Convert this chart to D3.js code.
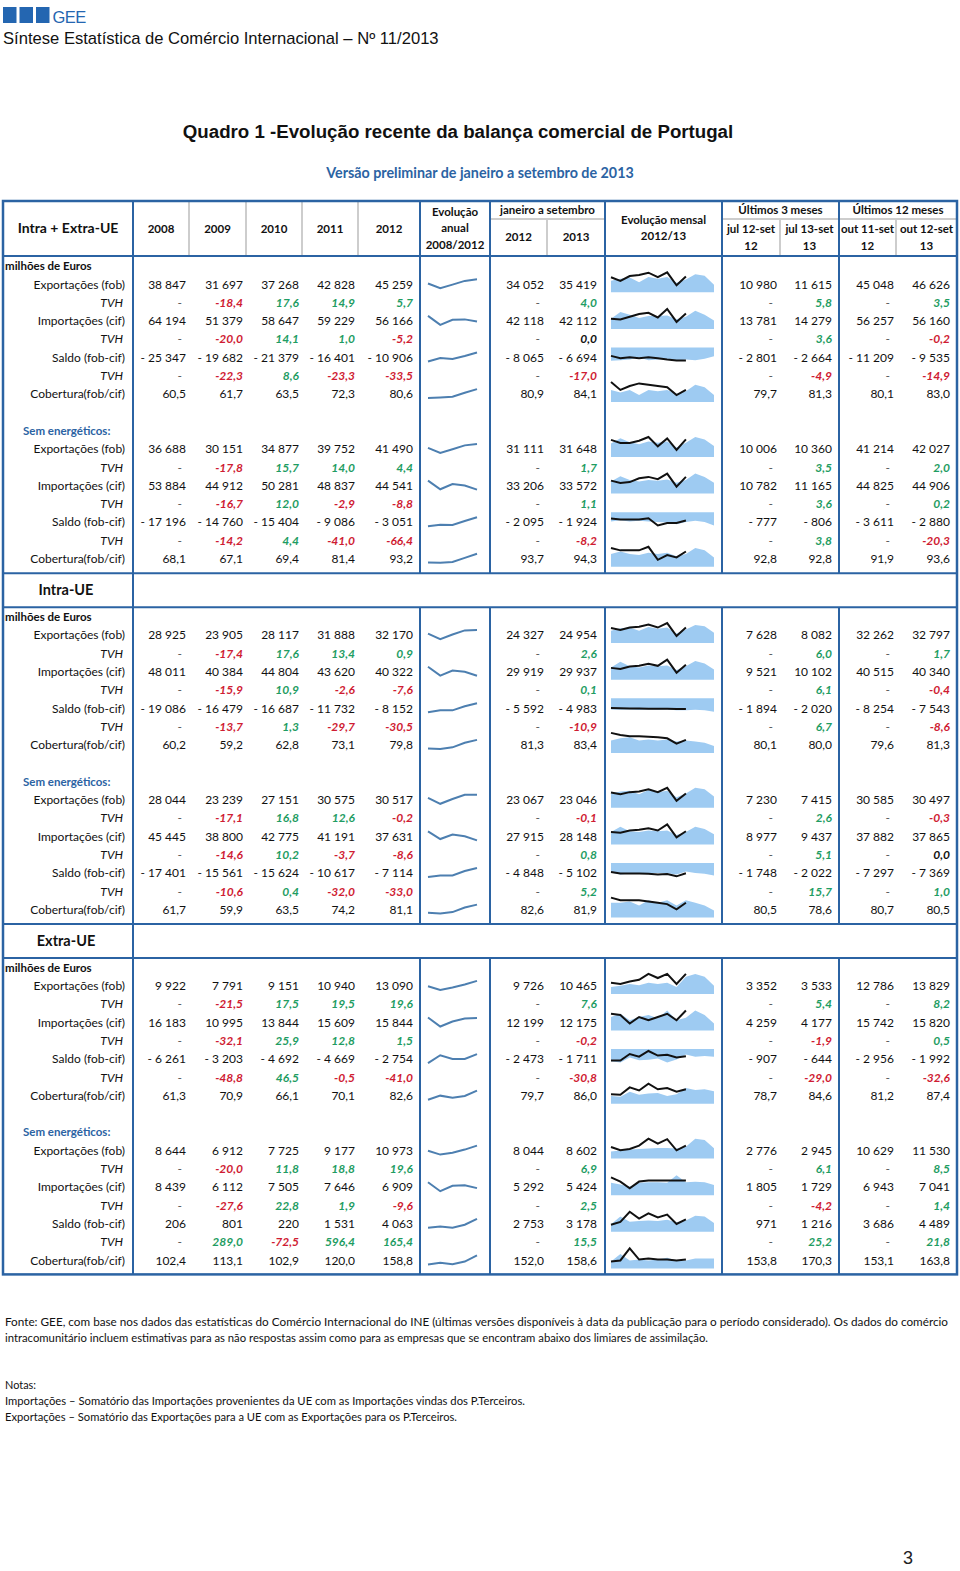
<!DOCTYPE html>
<html>
<head>
<meta charset="utf-8">
<script src="https://cdn.jsdelivr.net/npm/d3@7"></script>
<style>
  body { margin: 0; background: #fff; }
  svg text { font-family: Lato, "Open Sans", sans-serif; }
</style>
</head>
<body>
<script>
// Quadro 1 - evolução recente da balança comercial (tabela com sparklines)

const years = ["2008", "2009", "2010", "2011", "2012"];
const months = ["jan", "fev", "mar", "abr", "mai", "jun", "jul", "ago", "set", "out", "nov", "dez"];
const rowLabels = ["Exportações (fob)", "TVH", "Importações (cif)", "TVH", "Saldo (fob-cif)", "TVH", "Cobertura(fob/cif)"];
const sectionNames = ["Intra + Extra-UE", "Intra-UE", "Extra-UE"];
const periodHeads = ["janeiro a setembro", "Últimos 3 meses", "Últimos 12 meses"];
const periodCols = [["2012"], ["2013"], ["jul 12-set", "12"], ["jul 13-set", "13"], ["out 11-set", "12"], ["out 12-set", "13"]];

// columns: 2008..2012 | jan-set 2012, 2013 | jul-set 12, 13 | out-set 12, 13
const ieTotal = [
  [38847, 31697, 37268, 42828, 45259, 34052, 35419, 10980, 11615, 45048, 46626],
  [null, -18.4, 17.6, 14.9, 5.7, null, 4.0, null, 5.8, null, 3.5],
  [64194, 51379, 58647, 59229, 56166, 42118, 42112, 13781, 14279, 56257, 56160],
  [null, -20.0, 14.1, 1.0, -5.2, null, 0.0, null, 3.6, null, -0.2],
  [-25347, -19682, -21379, -16401, -10906, -8065, -6694, -2801, -2664, -11209, -9535],
  [null, -22.3, 8.6, -23.3, -33.5, null, -17.0, null, -4.9, null, -14.9],
  [60.5, 61.7, 63.5, 72.3, 80.6, 80.9, 84.1, 79.7, 81.3, 80.1, 83.0]
];
const ieSemEn = [
  [36688, 30151, 34877, 39752, 41490, 31111, 31648, 10006, 10360, 41214, 42027],
  [null, -17.8, 15.7, 14.0, 4.4, null, 1.7, null, 3.5, null, 2.0],
  [53884, 44912, 50281, 48837, 44541, 33206, 33572, 10782, 11165, 44825, 44906],
  [null, -16.7, 12.0, -2.9, -8.8, null, 1.1, null, 3.6, null, 0.2],
  [-17196, -14760, -15404, -9086, -3051, -2095, -1924, -777, -806, -3611, -2880],
  [null, -14.2, 4.4, -41.0, -66.4, null, -8.2, null, 3.8, null, -20.3],
  [68.1, 67.1, 69.4, 81.4, 93.2, 93.7, 94.3, 92.8, 92.8, 91.9, 93.6]
];
const intraTotal = [
  [28925, 23905, 28117, 31888, 32170, 24327, 24954, 7628, 8082, 32262, 32797],
  [null, -17.4, 17.6, 13.4, 0.9, null, 2.6, null, 6.0, null, 1.7],
  [48011, 40384, 44804, 43620, 40322, 29919, 29937, 9521, 10102, 40515, 40340],
  [null, -15.9, 10.9, -2.6, -7.6, null, 0.1, null, 6.1, null, -0.4],
  [-19086, -16479, -16687, -11732, -8152, -5592, -4983, -1894, -2020, -8254, -7543],
  [null, -13.7, 1.3, -29.7, -30.5, null, -10.9, null, 6.7, null, -8.6],
  [60.2, 59.2, 62.8, 73.1, 79.8, 81.3, 83.4, 80.1, 80.0, 79.6, 81.3]
];
const intraSemEn = [
  [28044, 23239, 27151, 30575, 30517, 23067, 23046, 7230, 7415, 30585, 30497],
  [null, -17.1, 16.8, 12.6, -0.2, null, -0.1, null, 2.6, null, -0.3],
  [45445, 38800, 42775, 41191, 37631, 27915, 28148, 8977, 9437, 37882, 37865],
  [null, -14.6, 10.2, -3.7, -8.6, null, 0.8, null, 5.1, null, 0.0],
  [-17401, -15561, -15624, -10617, -7114, -4848, -5102, -1748, -2022, -7297, -7369],
  [null, -10.6, 0.4, -32.0, -33.0, null, 5.2, null, 15.7, null, 1.0],
  [61.7, 59.9, 63.5, 74.2, 81.1, 82.6, 81.9, 80.5, 78.6, 80.7, 80.5]
];
const extraTotal = [
  [9922, 7791, 9151, 10940, 13090, 9726, 10465, 3352, 3533, 12786, 13829],
  [null, -21.5, 17.5, 19.5, 19.6, null, 7.6, null, 5.4, null, 8.2],
  [16183, 10995, 13844, 15609, 15844, 12199, 12175, 4259, 4177, 15742, 15820],
  [null, -32.1, 25.9, 12.8, 1.5, null, -0.2, null, -1.9, null, 0.5],
  [-6261, -3203, -4692, -4669, -2754, -2473, -1711, -907, -644, -2956, -1992],
  [null, -48.8, 46.5, -0.5, -41.0, null, -30.8, null, -29.0, null, -32.6],
  [61.3, 70.9, 66.1, 70.1, 82.6, 79.7, 86.0, 78.7, 84.6, 81.2, 87.4]
];
const extraSemEn = [
  [8644, 6912, 7725, 9177, 10973, 8044, 8602, 2776, 2945, 10629, 11530],
  [null, -20.0, 11.8, 18.8, 19.6, null, 6.9, null, 6.1, null, 8.5],
  [8439, 6112, 7505, 7646, 6909, 5292, 5424, 1805, 1729, 6943, 7041],
  [null, -27.6, 22.8, 1.9, -9.6, null, 2.5, null, -4.2, null, 1.4],
  [206, 801, 220, 1531, 4063, 2753, 3178, 971, 1216, 3686, 4489],
  [null, 289.0, -72.5, 596.4, 165.4, null, 15.5, null, 25.2, null, 21.8],
  [102.4, 113.1, 102.9, 120.0, 158.8, 152.0, 158.6, 153.8, 170.3, 153.1, 163.8]
];

// monthly series (estimated from the sparklines): exp, imp, saldo, cobertura
const ieTotalM12 = [
  [3640, 3820, 3950, 3500, 4010, 3820, 4010, 3440, 3760, 4260, 4130, 3250],
  [4460, 4890, 4720, 4505, 4635, 4635, 4675, 4420, 4590, 4975, 4720, 4335],
  [-1000, -950, -900, -750, -950, -900, -850, -1000, -900, -950, -850, -650],
  [82, 80, 82, 78, 82, 81, 82, 79, 81, 86, 84, 78]
];
const ieTotalM13 = [
  [3975, 3625, 4090, 4190, 4410, 3975, 4450, 3200, 4050],
  [4455, 4405, 4590, 4770, 4845, 4540, 5100, 4250, 4795],
  [-630, -800, -730, -800, -730, -800, -900, -970, -970],
  [88, 82, 85, 87, 86, 85, 84, 78, 82]
];
const ieSemEnM12 = [
  [3400, 3800, 3500, 3350, 3550, 3450, 3550, 3100, 3450, 3900, 3700, 3200],
  [3650, 3950, 3725, 3650, 3725, 3690, 3760, 3575, 3725, 4100, 3910, 3575],
  [-223, -195, -223, -209, -223, -237, -251, -294, -237, -209, -237, -322],
  [93, 95, 93, 92, 94, 93, 94, 91, 93, 98, 96, 90]
];
const ieSemEnM13 = [
  [3680, 3440, 3440, 3610, 3900, 3180, 3790, 2900, 3720],
  [3695, 3560, 3610, 3830, 3910, 3780, 4100, 3350, 3910],
  [-154, -178, -178, -178, -145, -320, -259, -259, -202],
  [98, 96, 96, 96, 99, 88, 92, 90, 95]
];
const intraTotalM12 = [
  [2585, 2775, 2820, 2585, 2870, 2730, 2820, 2395, 2680, 3010, 2920, 2445],
  [3240, 3620, 3325, 3240, 3370, 3325, 3370, 3070, 3325, 3665, 3495, 3110],
  [-600, -620, -610, -630, -600, -620, -610, -650, -650, -620, -640, -720],
  [81, 83, 84, 81, 82, 81, 82, 80, 81, 80, 79, 76]
];
const intraTotalM13 = [
  [2790, 2645, 2825, 2885, 3045, 2825, 3150, 2200, 2825],
  [3215, 3140, 3300, 3350, 3485, 3350, 3750, 2900, 3425],
  [-520, -540, -550, -555, -560, -565, -570, -575, -578],
  [88, 86, 85, 85, 84.5, 84, 83, 78, 81.5]
];
const intraSemEnM12 = [
  [2500, 2650, 2700, 2450, 2750, 2600, 2700, 2250, 2500, 2900, 2800, 2300],
  [3050, 3400, 3100, 3050, 3150, 3100, 3150, 2850, 3050, 3400, 3250, 2900],
  [-500, -600, -550, -560, -520, -530, -540, -600, -450, -520, -560, -650],
  [82, 82, 83, 80, 84, 82, 84, 80, 84, 82, 80, 76]
];
const intraSemEnM13 = [
  [2580, 2450, 2600, 2650, 2800, 2600, 2900, 2000, 2500],
  [3050, 3000, 3150, 3200, 3300, 3150, 3550, 2700, 3100],
  [-470, -550, -550, -550, -560, -600, -580, -700, -540],
  [86, 84, 84, 84, 83, 82, 81, 77, 82]
];
const extraTotalM12 = [
  [1030, 1050, 1080, 1060, 1100, 1080, 1100, 1030, 1200, 1250, 1200, 1050],
  [1350, 1400, 1300, 1350, 1380, 1330, 1450, 1300, 1340, 1450, 1380, 1250],
  [-320, -350, -220, -290, -280, -250, -350, -270, -140, -200, -180, -200],
  [76, 75, 83, 78, 80, 81, 76, 79, 89, 86, 87, 84]
];
const extraTotalM13 = [
  [1100, 1080, 1120, 1150, 1250, 1180, 1250, 1080, 1250],
  [1400, 1380, 1250, 1350, 1300, 1350, 1400, 1300, 1450],
  [-300, -300, -130, -200, -50, -170, -150, -220, -190],
  [79, 78, 90, 85, 96, 87, 89, 83, 87]
];
const extraSemEnM12 = [
  [840, 860, 880, 890, 900, 910, 910, 900, 930, 1080, 1060, 905],
  [583, 562, 534, 583, 590, 590, 583, 680, 590, 597, 590, 555],
  [240, 390, 290, 303, 315, 303, 328, 278, 315, 403, 390, 265],
  [145, 185, 150, 155, 150, 155, 165, 150, 150, 160, 160, 160]
];
const extraSemEnM13 = [
  [927, 865, 889, 953, 1085, 988, 1074, 865, 953],
  [653, 598, 513, 598, 613, 613, 613, 613, 613],
  [230, 285, 480, 348, 450, 370, 425, 245, 333],
  [145, 150, 215, 155, 160, 155, 155, 150, 155]
];

const groupTables = [[ieTotal, ieSemEn], [intraTotal, intraSemEn], [extraTotal, extraSemEn]];
const groupM12 = [[ieTotalM12, ieSemEnM12], [intraTotalM12, intraSemEnM12], [extraTotalM12, extraSemEnM12]];
const groupM13 = [[ieTotalM13, ieSemEnM13], [intraTotalM13, intraSemEnM13], [extraTotalM13, extraSemEnM13]];

const footNotes = [
  "Fonte: GEE, com base nos dados das estatísticas do Comércio Internacional do INE (últimas versões disponíveis à data da publicação para o período considerado). Os dados do comércio",
  "intracomunitário incluem estimativas para as não respostas assim como para as empresas que se encontram abaixo dos limiares de assimilação."
];
const notes = [
  "Notas:",
  "Importações – Somatório das Importações provenientes da UE com as Importações vindas dos P.Terceiros.",
  "Exportações – Somatório das Exportações para a UE com as Exportações para os P.Terceiros."
];

// ---------------------------------------------------------------

const blue = "#2b63a3", lineGrey = "#cdcdcd", red = "#cf1c33", green = "#1f9d63", ink = "#111";
const svg = d3.select("body").append("svg").attr("width", 960).attr("height", 1571);

const loc = d3.formatLocale({decimal: ",", thousands: " ", grouping: [3], currency: ["", ""], minus: "-"});
const fInt = loc.format(",.0f"), fDec = loc.format(".1f");
function fmt(v, dec){
    if (dec) return fDec(v);
    return v < 0 ? "- " + fInt(-v) : fInt(v);
}

// page header
svg.append("g").selectAll("rect")
    .data([3, 19.5, 36])
    .join("rect")
    .attr("x", d => d).attr("y", 7).attr("width", 13.5).attr("height", 16)
    .attr("fill", "#2466b1");
svg.append("text").attr("x", 52.5).attr("y", 23).text("GEE")
    .style("font-family", "'Liberation Sans', Arial").style("font-size", "16.5px")
    .attr("fill", "#2466b1").attr("letter-spacing", "-0.5");
svg.append("text").attr("x", 3).attr("y", 44)
    .text("Síntese Estatística de Comércio Internacional – Nº 11/2013")
    .style("font-family", "'Liberation Sans', Arial").style("font-size", "16.6px").attr("fill", "#111");

svg.append("text").attr("x", 458).attr("y", 138).attr("text-anchor", "middle")
    .text("Quadro 1 -Evolução recente da balança comercial de Portugal")
    .style("font-family", "'Liberation Sans', Arial").style("font-size", "18.7px")
    .style("font-weight", "bold").attr("fill", "#111");
svg.append("text").attr("x", 480).attr("y", 178).attr("text-anchor", "middle")
    .text("Versão preliminar de janeiro a setembro de 2013")
    .style("font-size", "14.3px").style("font-weight", "bold").attr("fill", blue);

// table geometry
const xL = 3, xR = 957, xLab = 133;
const xInner = [420, 490, 605, 722, 839];
const yTop = 201, yHead = 256, ySub = 219;
const pitch = 18.3;
const valueX = [186, 243, 299, 355, 413, 544, 597, 777, 832, 894, 950];
const yearEdges = [133, 189, 246, 302, 358, 420];

const grid = svg.append("g");
const body = svg.append("g");
const sparks = svg.append("g");

function txt(g, x, y, s, opts){
    const t = g.append("text").attr("x", x).attr("y", y).attr("dy", "0.35em").text(s)
        .attr("text-anchor", opts.anchor || "start")
        .attr("fill", opts.fill || ink)
        .style("font-size", (opts.size || 12) + "px");
    if (opts.bold) t.style("font-weight", "bold");
    if (opts.italic) t.style("font-style", "italic");
    return t;
}

// column headers
txt(body, 68, 228.5, sectionNames[0], {anchor: "middle", size: 14, bold: true});
years.forEach((y, i) => {
    txt(body, (yearEdges[i] + yearEdges[i + 1]) / 2, 228.5, y, {anchor: "middle", size: 11.5, bold: true});
});
["Evolução", "anual", "2008/2012"].forEach((s, i) =>
    txt(body, 455, 212 + i * 16.3, s, {anchor: "middle", size: 11.5, bold: true}));
["Evolução mensal", "2012/13"].forEach((s, i) =>
    txt(body, 663.5, 220 + i * 16.3, s, {anchor: "middle", size: 11.5, bold: true}));
const headSpans = [[490, 605], [722, 839], [839, 957]];
periodHeads.forEach((s, i) =>
    txt(body, (headSpans[i][0] + headSpans[i][1]) / 2, 210, s, {anchor: "middle", size: 11.5, bold: true}));
const subEdges = [490, 547, 605, 722, 780, 839, 896, 957];
periodCols.forEach((lines, i) => {
    const k = i < 2 ? i : i + 1;
    const cx = (subEdges[k] + subEdges[k + 1]) / 2;
    if (lines.length === 1) txt(body, cx, 237, lines[0], {anchor: "middle", size: 11.5, bold: true});
    else lines.forEach((s, j) => txt(body, cx, 229 + j * 16.5, s, {anchor: "middle", size: 11.5, bold: true}));
});

// header light lines
yearEdges.slice(1, 5).forEach(x => grid.append("line").attr("x1", x).attr("x2", x)
    .attr("y1", yTop).attr("y2", yHead).attr("stroke", lineGrey).attr("stroke-width", 2));
[547, 780, 896].forEach(x => grid.append("line").attr("x1", x).attr("x2", x)
    .attr("y1", ySub).attr("y2", yHead).attr("stroke", lineGrey).attr("stroke-width", 2));
[[490, 605], [722, 957]].forEach(p => grid.append("line").attr("x1", p[0]).attr("x2", p[1])
    .attr("y1", ySub).attr("y2", ySub).attr("stroke", lineGrey).attr("stroke-width", 2));
grid.append("line").attr("x1", 839).attr("x2", 839).attr("y1", yTop).attr("y2", yHead)
    .attr("stroke", blue).attr("stroke-width", 2);

// rows
const xMonth = d3.scalePoint(months, [611, 714]);
const xYear = d3.scalePoint(years, [428, 477]);

function drawRow(row, r, cy){
    const isTvh = r % 2 === 1, dec = isTvh || r === 6;
    txt(body, isTvh ? 123 : 125, cy, rowLabels[r], {anchor: "end", italic: isTvh});
    row.forEach((v, i) => {
        if (v === null) {
            txt(body, valueX[i] - 4, cy, "-", {anchor: "end", fill: "#555"});
        } else if (isTvh) {
            txt(body, valueX[i], cy, fmt(v, true), {anchor: "end", bold: true, italic: true,
                fill: v > 0 ? green : v < 0 ? red : ink});
        } else {
            txt(body, valueX[i], cy, fmt(v, dec), {anchor: "end"});
        }
    });
}

function drawAnnual(vals, cy){
    const y = d3.scaleLinear().domain(d3.extent(vals)).range([cy + 4, cy - 5]);
    sparks.append("path")
        .attr("d", d3.line().x((d, i) => xYear(years[i])).y(d => y(d))(vals))
        .attr("fill", "none").attr("stroke", "#4d7fb0").attr("stroke-width", 2);
}

function drawMonthly(m12, m13, cy){
    const all = m12.concat(m13);
    const lo = d3.min(all), hi = d3.max(all);
    let y, base;
    if (hi < 0) {
        y = d3.scaleLinear().domain([lo * 1.5, 0]).range([cy + 10, cy - 10]);
        base = cy - 10;
    } else {
        y = d3.scaleLinear().domain([lo, hi]).range([cy + 1, cy - 12]);
        base = cy + 8;
    }
    sparks.append("path")
        .attr("d", d3.area().x((d, i) => xMonth(months[i])).y0(base).y1(d => y(d))(m12))
        .attr("fill", "#9ecbf2");
    sparks.append("path")
        .attr("d", d3.line().x((d, i) => xMonth(months[i])).y(d => y(d))(m13))
        .attr("fill", "none").attr("stroke", "#111").attr("stroke-width", 2);
}

let cy = 266, segStart = yTop;
const segs = [], hLines = [yHead];
sectionNames.forEach((name, s) => {
    if (s > 0) {
        const top = cy + 14.5, bot = top + 34;
        segs.push([segStart, top]);
        hLines.push(top, bot);
        txt(body, 66, (top + bot) / 2, name, {anchor: "middle", size: 14.5, bold: true});
        segStart = bot;
        cy = bot + 9.5;
    }
    txt(body, 5, cy, "milhões de Euros", {size: 11.5, bold: true});
    groupTables[s].forEach((tbl, g) => {
        if (g === 1) {
            cy += pitch * 2;
            txt(body, 23, cy, "Sem energéticos:", {size: 11.5, bold: true, fill: blue});
        }
        tbl.forEach((row, r) => {
            cy += pitch;
            drawRow(row, r, cy);
            if (r % 2 === 0) {
                drawAnnual(row.slice(0, 5), cy);
                drawMonthly(groupM12[s][g][r / 2], groupM13[s][g][r / 2], cy);
            }
        });
    });
});
const yBot = cy + 14;
segs.push([segStart, yBot]);

// blue grid
segs.forEach(sg => xInner.forEach(x => grid.append("line")
    .attr("x1", x).attr("x2", x).attr("y1", sg[0]).attr("y2", sg[1])
    .attr("stroke", blue).attr("stroke-width", 2)));
grid.append("line").attr("x1", xLab).attr("x2", xLab).attr("y1", yTop).attr("y2", yBot)
    .attr("stroke", blue).attr("stroke-width", 2);
hLines.forEach(y => grid.append("line").attr("x1", xL).attr("x2", xR).attr("y1", y).attr("y2", y)
    .attr("stroke", blue).attr("stroke-width", 2));
grid.append("rect").attr("x", xL).attr("y", yTop).attr("width", xR - xL).attr("height", yBot - yTop)
    .attr("fill", "none").attr("stroke", blue).attr("stroke-width", 2.5);

// footnotes
const foot = svg.append("g").style("font-size", "11px").attr("fill", ink);
const footW = [943, 703];
footNotes.forEach((s, i) => foot.append("text").attr("x", 5).attr("y", 1326 + i * 16).text(s)
    .attr("textLength", footW[i]).attr("lengthAdjust", "spacingAndGlyphs"));
const noteW = [31, 520, 452];
notes.forEach((s, i) => foot.append("text").attr("x", 5).attr("y", 1389 + i * 16).text(s)
    .attr("textLength", noteW[i]).attr("lengthAdjust", "spacingAndGlyphs"));

svg.append("text").attr("x", 903).attr("y", 1564).text("3")
    .style("font-family", "'Liberation Sans', Arial").style("font-size", "18px").attr("fill", "#222");
</script>
</body>
</html>
